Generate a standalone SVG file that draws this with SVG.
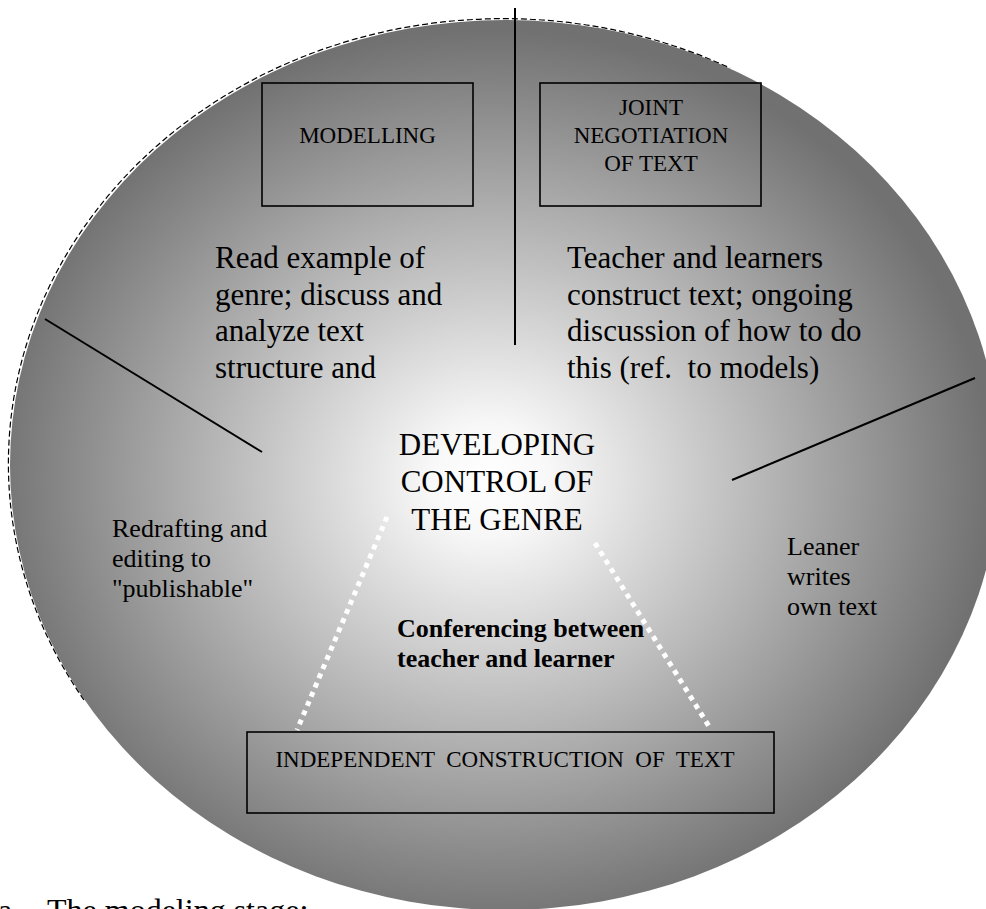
<svg xmlns="http://www.w3.org/2000/svg" width="986" height="909" viewBox="0 0 986 909">
<defs>
<radialGradient id="bg" gradientUnits="userSpaceOnUse" cx="490" cy="480" r="500" gradientTransform="translate(490 480) scale(1 0.9) translate(-490 -480)">
<stop offset="0" stop-color="#ffffff"/>
<stop offset="0.12" stop-color="#f8f8f8"/>
<stop offset="1" stop-color="#717171"/>
</radialGradient>
<style>
.t{font-family:"Liberation Serif","Times New Roman",serif;fill:#000}
.big{font-size:31px}
.sm{font-size:26px}
.box{font-size:23px}
.b{font-weight:bold}
.ln{stroke:#000;stroke-width:2;fill:none}
.rect{fill:none;stroke:#000;stroke-width:1.6}
.dot{stroke:#fff;stroke-width:5;stroke-dasharray:5 5;fill:none}
</style>
</defs>
<rect width="986" height="909" fill="#fff"/>
<g id="circle">
<ellipse cx="505" cy="465" rx="495" ry="445" fill="url(#bg)"/>
<path d="M 84 700 A 495 445 0 0 1 730 68" fill="none" stroke="#000" stroke-width="1.2" stroke-dasharray="6 3"/>
</g>
<g id="connectors">
<line class="ln" x1="515" y1="8" x2="515" y2="345"/>
<line class="ln" x1="45" y1="319" x2="262" y2="452"/>
<line class="ln" x1="732" y1="480" x2="975" y2="378"/>
<line class="dot" x1="387" y1="517" x2="297" y2="730"/>
<line class="dot" x1="595" y1="543" x2="710" y2="728"/>
</g>
<g id="modelling">
<rect class="rect" x="262" y="83" width="211" height="123"/>
<text class="t box" x="367.5" y="143" text-anchor="middle">MODELLING</text>
</g>
<g id="joint">
<rect class="rect" x="540" y="83" width="221" height="123"/>
<text class="t box" x="651" y="115" text-anchor="middle">JOINT</text>
<text class="t box" x="651" y="143" text-anchor="middle">NEGOTIATION</text>
<text class="t box" x="651" y="171" text-anchor="middle">OF TEXT</text>
</g>
<g id="modelling-desc">
<text class="t big" x="215" y="268">Read example of</text>
<text class="t big" x="215" y="305">genre; discuss and</text>
<text class="t big" x="215" y="341">analyze text</text>
<text class="t big" x="215" y="378">structure and</text>
</g>
<g id="joint-desc">
<text class="t big" x="567" y="268">Teacher and learners</text>
<text class="t big" x="567" y="305">construct text; ongoing</text>
<text class="t big" x="567" y="341">discussion of how to do</text>
<text class="t big" x="567" y="378" xml:space="preserve">this (ref.  to models)</text>
</g>
<g id="centre">
<text class="t big" x="497" y="455" text-anchor="middle">DEVELOPING</text>
<text class="t big" x="497" y="492" text-anchor="middle">CONTROL OF</text>
<text class="t big" x="497" y="530" text-anchor="middle">THE GENRE</text>
</g>
<g id="redrafting">
<text class="t sm" x="112" y="537">Redrafting and</text>
<text class="t sm" x="112" y="567">editing to</text>
<text class="t sm" x="112" y="597">"publishable"</text>
</g>
<g id="leaner">
<text class="t sm" x="787" y="555">Leaner</text>
<text class="t sm" x="787" y="585">writes</text>
<text class="t sm" x="787" y="615">own text</text>
</g>
<g id="conferencing">
<text class="t sm b" x="397" y="637">Conferencing between</text>
<text class="t sm b" x="397" y="667">teacher and learner</text>
</g>
<g id="independent">
<rect class="rect" x="247" y="732" width="527" height="81"/>
<text class="t box" x="505" y="767" text-anchor="middle" xml:space="preserve">INDEPENDENT  CONSTRUCTION  OF  TEXT</text>
</g>
<g id="caption">
<text class="t" font-size="32" x="-2" y="921">a.</text>
<text class="t" font-size="32" x="47" y="921">The modeling stage:</text>
</g>
</svg>
